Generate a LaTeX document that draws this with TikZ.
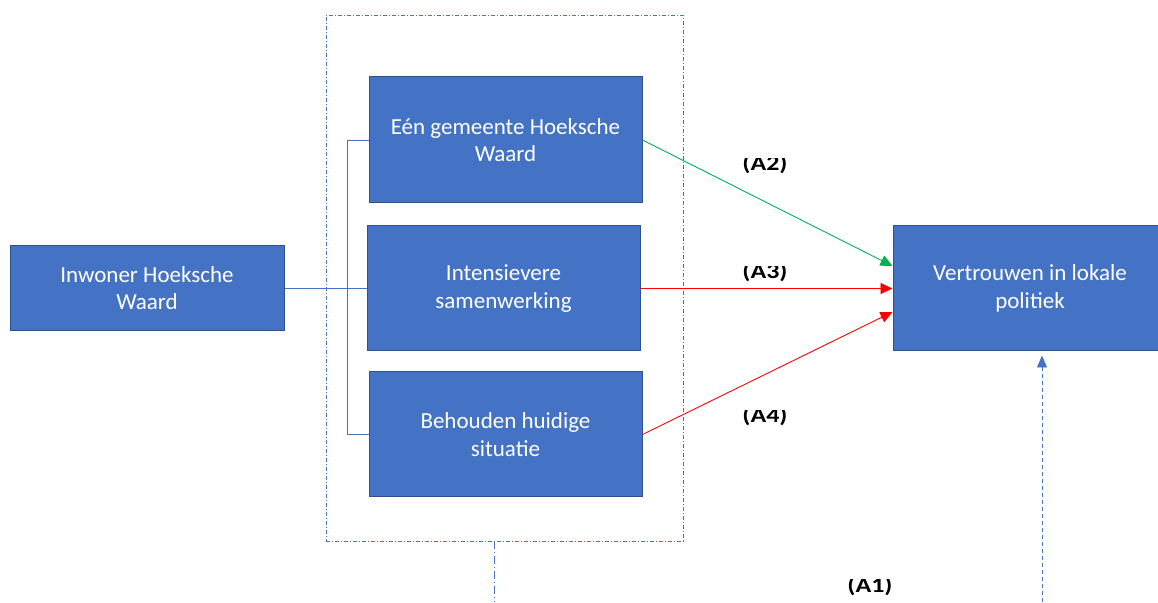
\documentclass[tikz,border=0pt]{standalone}
\usepackage{fontspec}
\setmainfont{Carlito}
\usetikzlibrary{arrows.meta,calc}
\definecolor{boxblue}{HTML}{4472C4}
\definecolor{boxedge}{HTML}{2F528F}
\definecolor{linkblue}{HTML}{4472C4}
\definecolor{arrgreen}{HTML}{00B050}
\definecolor{arrred}{HTML}{FF0000}
\newcommand{\squashlbl}[1]{\scalebox{1}[0.82]{#1}}
\tikzset{
  bluebox/.style={draw=boxedge,line width=1pt,fill=boxblue,text=white,
    minimum width=273pt,minimum height=125pt,inner sep=0pt,align=center,
    font=\fontsize{23}{27.5}\selectfont},
  lbl/.style={anchor=base,inner sep=0pt,font=\fontsize{26}{30}\selectfont\bfseries,text=black},
  link/.style={draw=linkblue,line width=0.8pt},
  effect/.style={line width=0.9pt,-{Triangle[length=12pt,width=11pt]}},
  container/.style={draw=linkblue,line width=0.8pt,dash pattern=on 4pt off 2pt on 1pt off 2pt},
}
\begin{document}
\begin{tikzpicture}[x=1pt,y=1pt]
\useasboundingbox (0,0) rectangle (1158,602);
% container
\node[container,minimum width=357pt,minimum height=526pt,inner sep=0pt] (cont) at (504.5,324) {};
% boxes
\node[bluebox,minimum width=274pt,minimum height=85pt] (inw) at (147,314) {Inwoner Hoeksche\\Waard};
\node[bluebox,minimum height=126pt] (b1) at (505.5,462) {Eén gemeente Hoeksche\\Waard};
\node[bluebox] (b2) at (503.5,313.5) {Intensievere\\samenwerking};
\node[bluebox] (b3) at (505.5,167.5) {Behouden huidige\\situatie};
\node[bluebox,minimum width=274pt] (vert) at (1030,313.5) {Vertrouwen in lokale\\politiek};
% links from respondent
\coordinate (bx) at (347,0);
\draw[link] (inw.east) -- (inw.east -| b2.west);
\draw[link] (b1.west) -- (b1.west -| bx) -- (b3.west -| bx) -- (b3.west);
% effects
\coordinate (vin2) at ($(vert.west)+(0,22.5)$);
\coordinate (vin4) at ($(vert.west)+(0,-23.5)$);
\draw[effect,arrgreen] (b1.east) -- (vin2);
\draw[effect,arrred] (b2.east) -- (vert.west);
\draw[effect,arrred] (b3.east) -- (vin4);
% bottom lines
\coordinate (cb) at (494,0);
\draw[link,dash pattern=on 8pt off 3pt on 1pt off 3pt] (cont.south -| cb) -- (cb);
\coordinate (a1s) at (1042,0);
\coordinate (a1e) at ($(vert.south -| a1s)+(0,-4)$);
\draw[link,dash pattern=on 4pt off 3pt,-{Triangle[length=12pt,width=10pt]}] (a1s) -- (a1e);
% labels (text boxes clipped at the top)
\begin{scope}
\clip (700,443) rectangle (830,415);
\node[lbl] (la2) at (765,431.3) {\squashlbl{(A2)}};
\end{scope}
\begin{scope}
\clip (700,335) rectangle (830,305);
\node[lbl] (la3) at (765,323.3) {\squashlbl{(A3)}};
\end{scope}
\begin{scope}
\clip (700,191) rectangle (830,160);
\node[lbl] (la4) at (765,179.3) {\squashlbl{(A4)}};
\end{scope}
\begin{scope}
\clip (800,23) rectangle (940,0);
\node[lbl] (la1) at (870,9.3) {\squashlbl{(A1)}};
\end{scope}
\end{tikzpicture}
\end{document}
